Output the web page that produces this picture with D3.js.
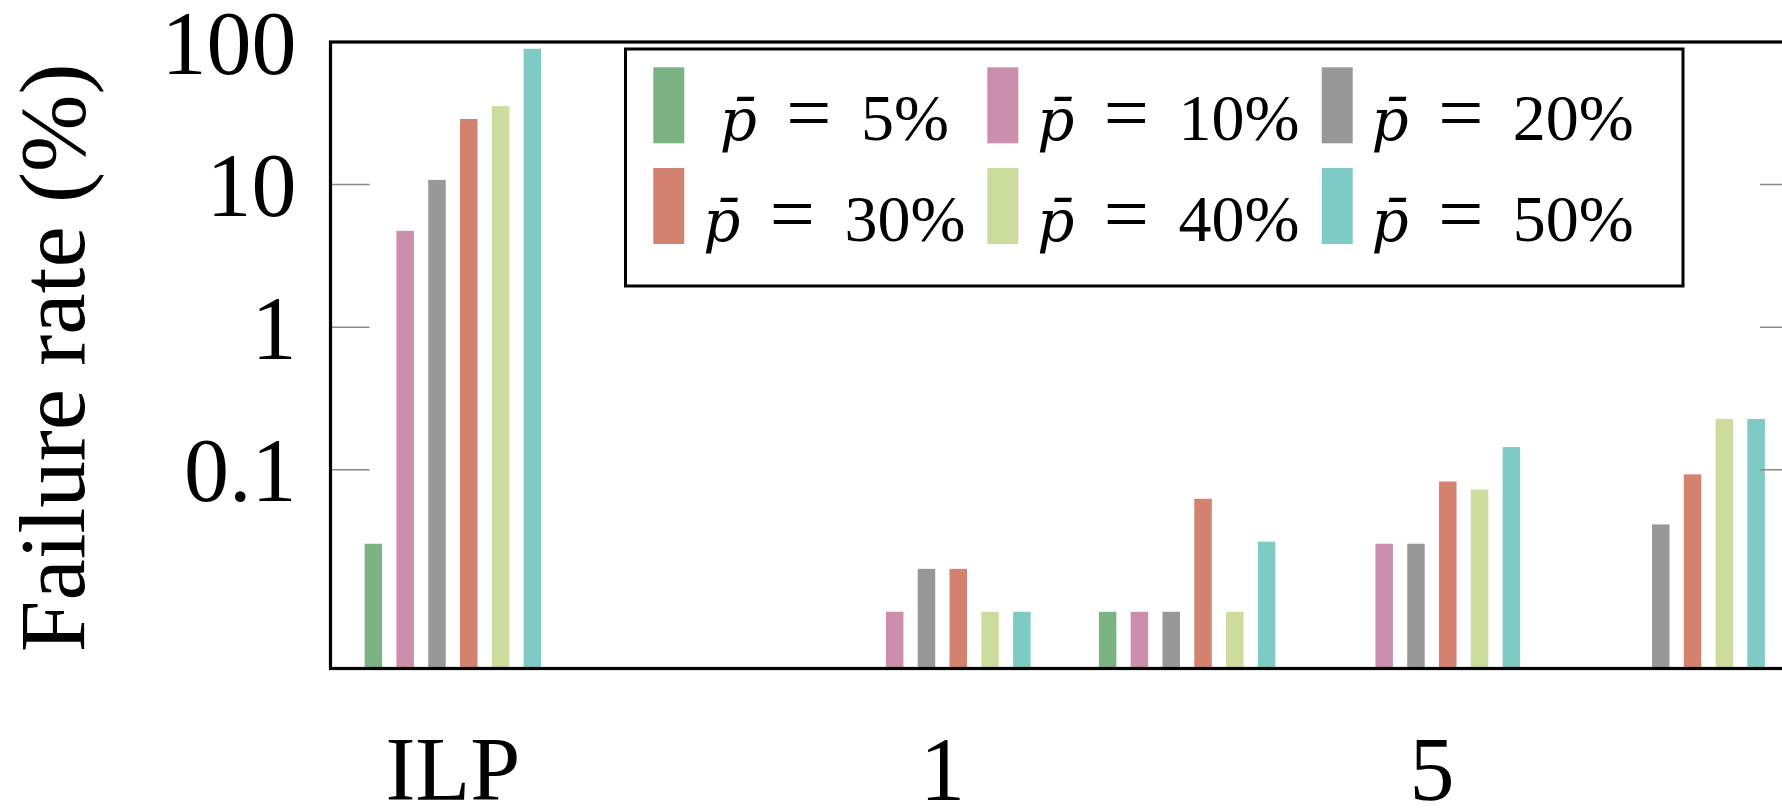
<!DOCTYPE html>
<html>
<head>
<meta charset="utf-8">
<script src="https://cdn.jsdelivr.net/npm/d3@7"></script>
<style>
  html, body { margin: 0; padding: 0; background: #fff; }
  svg { display: block; }
  text { font-family: "Liberation Serif", "Times New Roman", serif; fill: #000; }
</style>
</head>
<body>
<svg id="chart" width="1782" height="809"></svg>
<script>
// ---- data ----
const groups = ["ILP", "g2", "1", "g4", "5", "g6"];
const tickLabels = ["ILP", "", "1", "", "5", ""];
const seriesKeys = ["5%", "10%", "20%", "30%", "40%", "50%"];
const seriesColors = ["#7cb383", "#cb8fad", "#989898", "#d38270", "#cbdc9c", "#7dcbc4"];
// failure rate (%) per group; null = no bar
const p5  = [0.03, null, null, 0.01, null, null];
const p10 = [4.7,  null, 0.01, 0.01, 0.03, null];
const p20 = [10.7, null, 0.02, 0.01, 0.03, 0.041];
const p30 = [28.6, null, 0.02, 0.062, 0.082, 0.092];
const p40 = [35.2, null, 0.01, 0.01, 0.072, 0.225];
const p50 = [89,   null, 0.01, 0.031, 0.143, 0.225];
const seriesValues = [p5, p10, p20, p30, p40, p50];
const yTicks = [0.1, 1, 10, 100];
const yTickLabels = ["0.1", "1", "10", "100"];
const yLabel = "Failure rate (%)";

// ---- layout ----
const FONT = "'Liberation Serif', 'Times New Roman', serif";
const svg = d3.select("#chart");
const L = 330.5, R = 1799, T = 42, B = 668.5;

const x0 = d3.scaleBand().domain(groups).range([L, R]).padding(0);
const x1 = d3.scaleBand().domain(seriesKeys).range([-95.4, 95.4])
  .paddingInner(0.45).paddingOuter(0.225);
const y = d3.scaleLog().domain([0.004, 100]).range([B, 41.5]);
const color = d3.scaleOrdinal().domain(seriesKeys).range(seriesColors);

// bars
const barData = [];
seriesKeys.forEach((s, si) => {
  groups.forEach((g, gi) => {
    const v = seriesValues[si][gi];
    if (v != null) barData.push({ g, s, v });
  });
});
svg.append("g").selectAll("rect").data(barData).join("rect")
  .attr("x", d => x0(d.g) + x0.bandwidth() / 2 + x1(d.s))
  .attr("width", x1.bandwidth())
  .attr("y", d => y(d.v))
  .attr("height", d => B - y(d.v))
  .attr("fill", d => color(d.s));

// y axis (left) with inward ticks
const yAxisL = d3.axisLeft(y).tickValues(yTicks)
  .tickFormat((d, i) => yTickLabels[i]).tickSize(-39).tickPadding(34);
const gL = svg.append("g").attr("transform", `translate(${L},0)`).call(yAxisL);
gL.attr("font-family", FONT);
gL.select(".domain").remove();
gL.selectAll(".tick line").attr("stroke", "#888").attr("stroke-width", 1.5);
gL.selectAll(".tick text").attr("font-size", 90).attr("dy", "0.35em")
  .attr("font-family", FONT).attr("fill", "#000");

// y axis (right, mirrored ticks)
const yAxisR = d3.axisRight(y).tickValues(yTicks).tickFormat("").tickSize(-39);
const gR = svg.append("g").attr("transform", `translate(${R},0)`).call(yAxisR);
gR.select(".domain").remove();
gR.selectAll(".tick line").attr("stroke", "#888").attr("stroke-width", 1.5);

// x axis labels
const xAxis = d3.axisBottom(x0).tickSize(0).tickPadding(68)
  .tickFormat((d, i) => tickLabels[i]);
const gX = svg.append("g").attr("transform", `translate(0,${B})`).call(xAxis);
gX.attr("font-family", FONT);
gX.select(".domain").remove();
gX.selectAll(".tick text").attr("font-size", 90)
  .attr("font-family", FONT).attr("fill", "#000");

// frame
svg.append("rect").attr("x", L).attr("y", T).attr("width", R - L).attr("height", B - T)
  .attr("fill", "none").attr("stroke", "#000").attr("stroke-width", 3.2);

// y label
svg.append("text")
  .attr("transform", "translate(84,358) rotate(-90)")
  .attr("text-anchor", "middle")
  .attr("font-family", FONT)
  .attr("font-size", 93)
  .text(yLabel);

// legend
const leg = svg.append("g").attr("font-family", FONT);
leg.append("rect").attr("x", 625.5).attr("y", 49).attr("width", 1683 - 625.5).attr("height", 286 - 49)
  .attr("fill", "#fff").attr("stroke", "#000").attr("stroke-width", 3);
const colX = [653.3, 987.3, 1321.7];
const rowY = [67.3, 168];
seriesKeys.forEach((s, i) => {
  const c = i % 3, r = Math.floor(i / 3);
  leg.append("rect").attr("x", colX[c]).attr("y", rowY[r]).attr("width", 31).attr("height", 76)
    .attr("fill", color(s));
  const t = leg.append("text")
    .attr("x", colX[c] + 31 + 150)
    .attr("y", rowY[r] + 73)
    .attr("text-anchor", "middle")
    .attr("font-family", FONT)
    .attr("font-size", 66)
    .attr("word-spacing", 13);
  t.append("tspan").attr("font-style", "italic")
    .attr("font-family", "'DejaVu Serif', serif").attr("font-size", 58).text("p\u0304");
  t.append("tspan").text(" ");
  t.append("tspan").attr("font-size", 80).text("=");
  t.append("tspan").text(" " + s);
});
</script>
</body>
</html>
